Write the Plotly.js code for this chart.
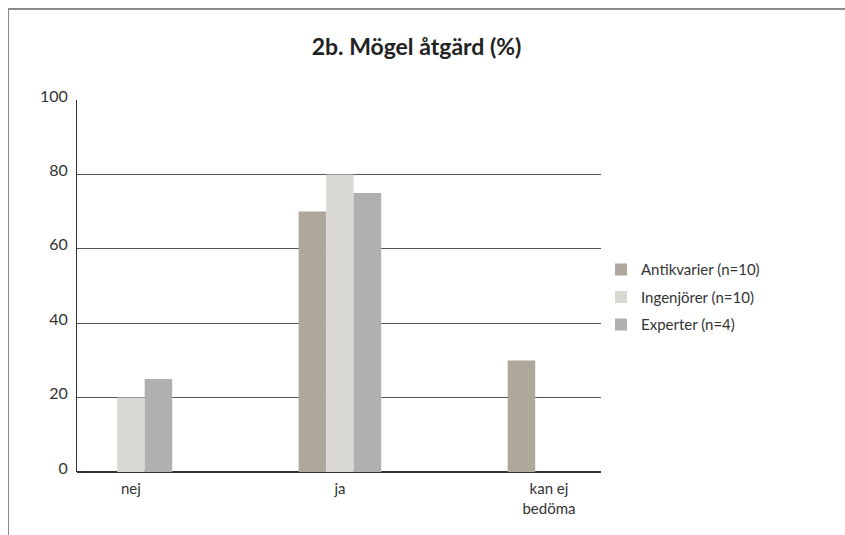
<!DOCTYPE html>
<html>
<head>
<meta charset="utf-8">
<script src="https://cdn.plot.ly/plotly-3.0.1.min.js"></script>
<style>
html,body{margin:0;padding:0;background:#fff;}
#wrap{position:relative;width:845px;height:535px;}
#chart{position:absolute;left:0;top:0;width:845px;height:535px;}
#frame{position:absolute;left:8px;top:8px;width:845px;height:540px;border-top:2px solid #8a8a8a;border-left:1px solid #8a8a8a;pointer-events:none;box-sizing:border-box;}
</style>
</head>
<body>
<div id="wrap">
<div id="chart"></div>
<div id="frame"></div>
</div>
<script>
const categories = ["nej", "ja", "kan ej<br>bedöma"];
const seriesNames = ["Antikvarier (n=10)", "Ingenjörer (n=10)", "Experter (n=4)"];
const antikvarier = [0, 70, 30];
const ingenjorer = [20, 80, 0];
const experter = [25, 75, 0];
const yTicks = [0, 20, 40, 60, 80, 100];
const colors = ["#aea89c", "#d9d8d3", "#b0b0b0"];

const values = [antikvarier, ingenjorer, experter];
const traces = values.map((v, i) => ({
  type: "bar",
  name: seriesNames[i],
  legendgroup: "g" + i,
  x: categories,
  y: v,
  marker: {color: colors[i], line: {width: 0}},
  hoverinfo: "skip"
}));

const layout = {
  width: 845,
  height: 535,
  paper_bgcolor: "#ffffff",
  plot_bgcolor: "#ffffff",
  margin: {l: 77, r: 244, t: 100, b: 63, pad: 0},
  font: {family: "Lato, sans-serif", color: "#333333", size: 15},
  title: {
    text: "<b>2b. Mögel åtgärd (%)</b>",
    font: {size: 23, color: "#222222", family: "Lato, sans-serif"},
    xref: "container", x: 0.493, xanchor: "center",
    yref: "container", y: 0.912, yanchor: "middle"
  },
  barmode: "group",
  bargap: 0.605,
  bargroupgap: 0,
  xaxis: {
    type: "category",
    range: [-0.258, 2.249],
    showgrid: false,
    showline: false,
    zeroline: false,
    ticks: "",
    tickfont: {size: 15, color: "#333333"},
    ticklabelstandoff: 6
  },
  yaxis: {
    range: [0, 100],
    tickvals: yTicks,
    ticktext: yTicks.map(String),
    showgrid: true,
    gridcolor: "#555555",
    gridwidth: 1,
    zeroline: true,
    zerolinecolor: "#333333",
    zerolinewidth: 1.5,
    showline: true,
    linecolor: "#333333",
    linewidth: 1,
    ticks: "",
    tickfont: {size: 16, color: "#333333"},
    ticklabelstandoff: 5,
    ticklabelshift: -4
  },
  showlegend: true,
  legend: {
    x: 1.0, xanchor: "left",
    y: 0.47, yanchor: "middle",
    font: {size: 15, color: "#333333"},
    bgcolor: "rgba(0,0,0,0)",
    itemwidth: 30,
    tracegroupgap: 5
  }
};

Plotly.newPlot("chart", traces, layout, {displayModeBar: false, staticPlot: true});
</script>
</body>
</html>
